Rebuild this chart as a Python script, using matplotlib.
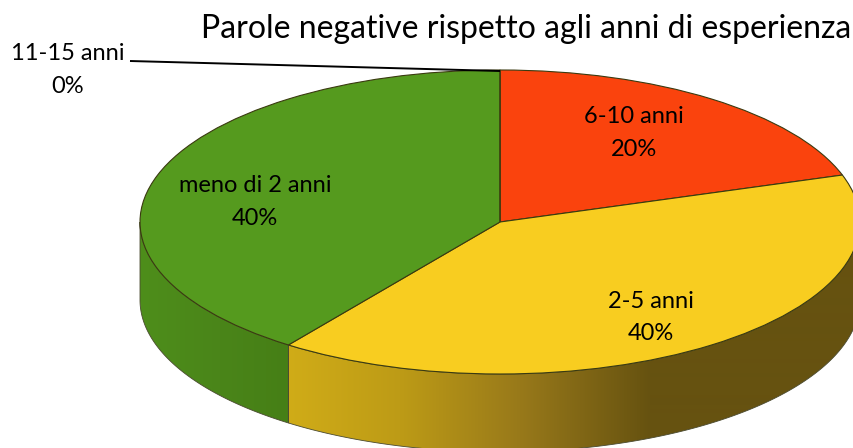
import numpy as np
import matplotlib
matplotlib.use('Agg')
import matplotlib.pyplot as plt
from matplotlib.patches import Polygon

labels = ['6-10 anni', '2-5 anni', 'meno di 2 anni', '11-15 anni']
values = [20, 40, 40, 0]
percent = ['20%', '40%', '40%', '0%']
colors = ['#fa430d', '#f8cd20', '#559a1e', '#559a1e']

# pie geometry in pixels
cx, cy = 500, 222
rx, ry = 360, 152
depth = 78 / ry

plt.rcParams['font.family'] = ['Lato', 'DejaVu Sans']

fig = plt.figure(figsize=(8.54, 4.48), dpi=100)
ax = fig.add_axes([0, 0, 1, 1])

wedges, _ = ax.pie(values, colors=colors, startangle=90, counterclock=False, radius=1,
                   wedgeprops={'edgecolor': '#3a3a10', 'linewidth': 0.8, 'zorder': 5})
ax.set_aspect('auto')
ax.axis('off')


def px(x, y):
    return (x - cx) / rx, (cy - y) / ry


# side wall of the pie, only the front half can be seen
edges = np.cumsum([0] + values) / sum(values) * 360
side_stops = {
    1: ([288, 400, 520, 650, 854], ['#d0ac18', '#bd9b16', '#98791a', '#665210', '#665210']),
    2: ([140, 220, 288], ['#4e8e1b', '#4a8519', '#467f16']),
}
for i, (xs, cols) in side_stops.items():
    a = max(edges[i], 90)
    b = min(edges[i + 1], 270)
    t = np.radians(np.linspace(a, b, 200))
    top = np.column_stack([np.sin(t), np.cos(t)])
    bottom = top[::-1] - [0, depth]
    poly = Polygon(np.vstack([top, bottom]), closed=True, facecolor='none',
                   edgecolor='#4a4a30', linewidth=0.6, zorder=3)
    ax.add_patch(poly)
    rgb = np.array([matplotlib.colors.to_rgb(c) for c in cols])
    grid = np.arange(854)
    row = np.column_stack([np.interp(grid, xs, rgb[:, k]) for k in range(3)])[None, :, :]
    img = ax.imshow(row, extent=[(0 - cx) / rx, (854 - cx) / rx, -3, 3], aspect='auto',
                    interpolation='bilinear', zorder=2)
    img.set_clip_path(poly)

ax.set_xlim((0 - cx) / rx, (854 - cx) / rx)
ax.set_ylim((cy - 448) / ry, cy / ry)

# leader line of the empty slice
lx, ly = zip(px(130, 61), px(500, 71))
ax.plot(lx, ly, color='black', lw=1.4, zorder=6, solid_capstyle='butt')

fs = 17
label_pos = [(634, 116, 149), (651, 301, 333), (255, 185, 218), (68, 54, 86)]
for name, pct, (x, y1, y2) in zip(labels, percent, label_pos):
    ax.text(*px(x, y1), name, ha='center', va='center', fontsize=fs, color='black', zorder=7)
    ax.text(*px(x, y2), pct, ha='center', va='center', fontsize=fs, color='black', zorder=7)

ax.text(*px(201, 29), 'Parole negative rispetto agli anni di esperienza', ha='left', va='center',
        fontsize=23, color='black', zorder=7)

fig.savefig('out.png', dpi=100)
